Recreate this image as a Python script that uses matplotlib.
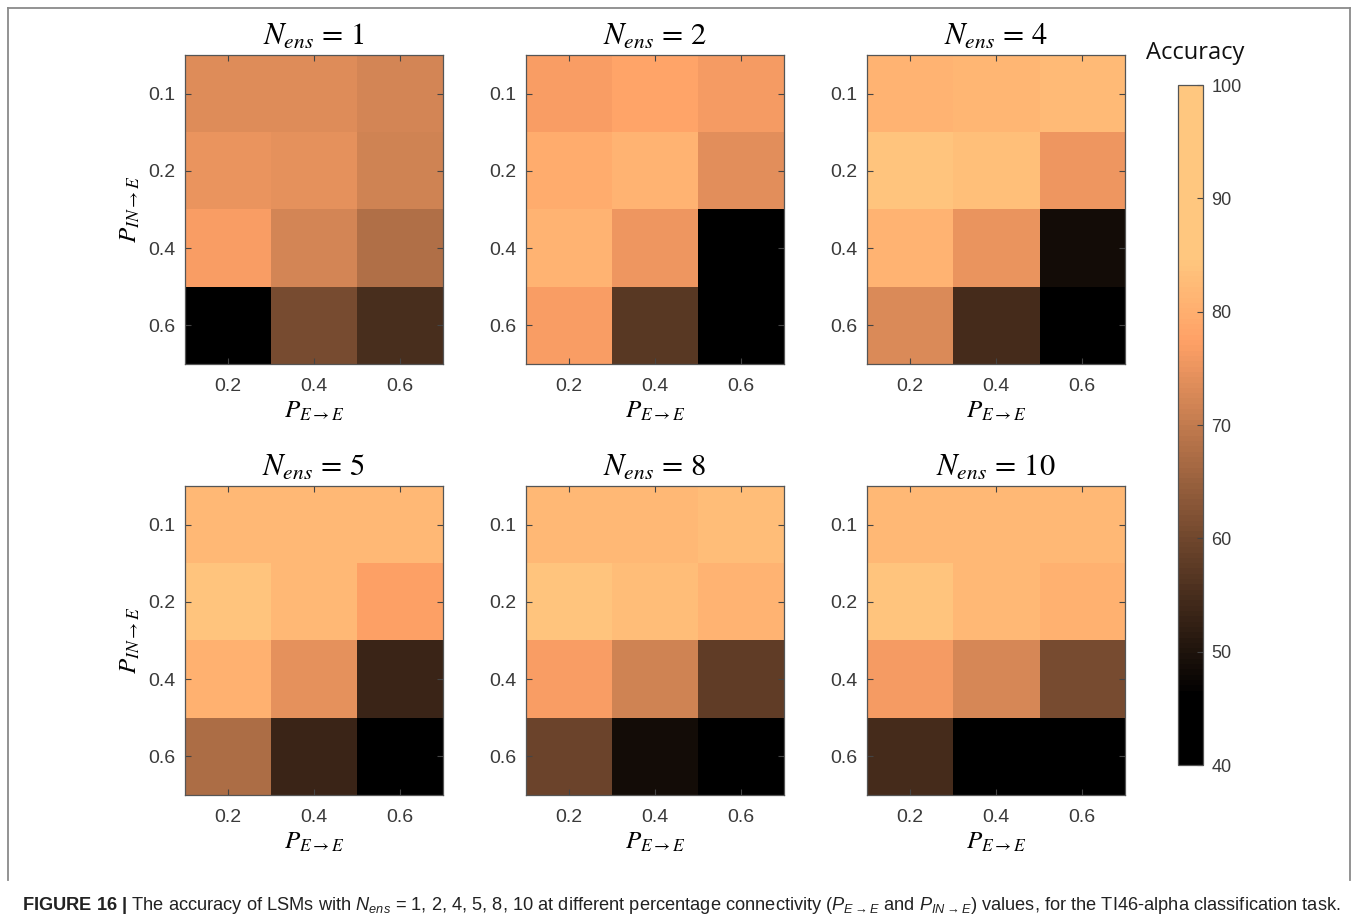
import numpy as np
import matplotlib
matplotlib.use('Agg')
from matplotlib import pyplot as plt
from matplotlib.colors import ListedColormap
from matplotlib.lines import Line2D

# connectivity values on the two axes
p_ee = ['0.2', '0.4', '0.6']
p_in = ['0.1', '0.2', '0.4', '0.6']
n_ens = [1, 2, 4, 5, 8, 10]

# accuracy (%) per ensemble size, rows = P_IN->E, columns = P_E->E
acc_n1 = [[73.5, 73.5, 72.1], [74.7, 74.4, 71.7], [76.8, 72.0, 67.8], [42.0, 60.9, 55.2]]
acc_n2 = [[76.6, 78.0, 76.5], [79.5, 80.9, 73.9], [81.2, 75.4, 40.0], [76.6, 57.0, 40.0]]
acc_n4 = [[81.0, 81.5, 82.3], [84.2, 83.3, 75.4], [81.0, 75.0, 48.5], [72.9, 54.6, 40.0]]
acc_n5 = [[82.0, 82.0, 82.0], [84.2, 82.0, 77.2], [80.6, 74.5, 53.3], [67.6, 53.3, 40.0]]
acc_n8 = [[82.0, 82.0, 83.0], [84.5, 83.0, 81.0], [76.6, 71.7, 58.2], [59.5, 48.5, 40.0]]
acc_n10 = [[82.0, 82.0, 82.0], [84.5, 82.0, 80.5], [76.5, 72.5, 60.7], [54.8, 40.0, 40.0]]
acc_all = [acc_n1, acc_n2, acc_n4, acc_n5, acc_n8, acc_n10]

# copper map, stretched so the dark end and the light end saturate early
t = np.clip((np.linspace(0, 1, 128) - 0.1) / 0.65, 0, 1)
cmap = ListedColormap(plt.cm.copper(t))

plt.rcParams['font.family'] = ['Liberation Sans', 'DejaVu Sans']
plt.rcParams['mathtext.fontset'] = 'custom'
plt.rcParams['mathtext.rm'] = 'Liberation Sans'
plt.rcParams['mathtext.it'] = 'Liberation Sans:italic'
plt.rcParams['mathtext.bf'] = 'Liberation Sans:bold'

W, H = 1358, 924
fig = plt.figure(figsize=(W / 100, H / 100), dpi=100)

lefts = [185, 526, 867]
tops = [55, 486]
aw, ah = 258, 309

tick_col = '#3a3a3a'
for k, (n, acc) in enumerate(zip(n_ens, acc_all)):
    r, c = divmod(k, 3)
    ax = fig.add_axes([lefts[c] / W, 1 - (tops[r] + ah) / H, aw / W, ah / H])
    im = ax.imshow(np.array(acc), cmap=cmap, vmin=40, vmax=100, aspect='auto',
                   interpolation='nearest')
    ax.set_xticks(range(len(p_ee)))
    ax.set_xticklabels(p_ee)
    ax.set_yticks(range(len(p_in)))
    ax.set_yticklabels(p_in)
    ax.tick_params(direction='in', length=4, width=0.8, color='#444444',
                   top=True, right=True, labelsize=14, labelcolor=tick_col)
    ax.tick_params(axis='x', pad=10)
    ax.tick_params(axis='y', pad=7)
    for s in ax.spines.values():
        s.set_color('#555555')
        s.set_linewidth(0.9)
    ax.set_title(rf'$N_{{ens}}\,=\,{n}$', fontsize=22, math_fontfamily='stix', pad=7)
    ax.set_xlabel(r'$P_{E\rightarrow E}$', fontsize=18, math_fontfamily='stix',
                  labelpad=3)
    if c == 0:
        ax.set_ylabel(r'$P_{IN\rightarrow E}$', fontsize=18, math_fontfamily='stix',
                      labelpad=4)

# colour bar
cax = fig.add_axes([1178 / W, 1 - 765 / H, 25 / W, 680 / H])
cb = fig.colorbar(im, cax=cax, ticks=[40, 50, 60, 70, 80, 90, 100])
cb.ax.tick_params(direction='in', length=4, width=0.8, color='#444444',
                  labelsize=13, labelcolor=tick_col, pad=6)
cb.outline.set_edgecolor('#555555')
cb.outline.set_linewidth(0.9)
fig.text(1195 / W, 1 - 53 / H, 'Accuracy', fontsize=17, family='Open Sans',
         ha='center', va='center', color='#111111')

# frame round the panels
fc = '#8a8a8a'
fig.add_artist(Line2D([8 / W, 8 / W], [1 - 880 / H, 1 - 8 / H], color=fc, lw=1.3))
fig.add_artist(Line2D([8 / W, 1350 / W], [1 - 8 / H, 1 - 8 / H], color=fc, lw=1.3))
fig.add_artist(Line2D([1350 / W, 1350 / W], [1 - 880 / H, 1 - 8 / H], color=fc, lw=1.3))

caption = (r'$\mathbf{FIGURE\ 16\ |}$ The accuracy of LSMs with $N_{ens}$ = 1, 2, 4, 5, 8, 10 '
           r'at different percentage connectivity ($P_{E\rightarrow E}$ and $P_{IN\rightarrow E}$) '
           r'values, for the TI46-alpha classification task.')
fig.text(22 / W, 1 - 906 / H, caption, fontsize=13.15,
         ha='left', va='center', color='#222222')

fig.savefig('out.png', dpi=100)
